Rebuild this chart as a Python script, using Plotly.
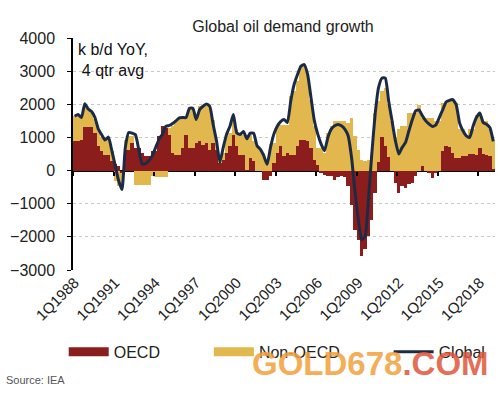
import plotly.graph_objects as go

# Quarterly, 1Q1988 .. 1Q2019 (125 quarters)
quarters = [f"{q}Q{y}" for y in range(1988, 2020) for q in range(1, 5)][:125]

oecd = [885, 885, 935, 1315, 1315, 1315, 1135, 735, 585, 480,
        480, 280, 210, 130, -70, 630, 630, 835, 690, 685,
        530, 430, 430, 585, 585, 1035, 1360, 1290, 1085, 530,
        480, 480, 685, 1085, 685, 685, 835, 885, 785, 835,
        630, 835, 630, 230, 330, 530, 735, 1085, 735, 480,
        480, 30, 380, 280, 0, 0, -270, -270, -170, 230,
        530, 735, 430, 530, 480, 480, 735, 935, 935, 885,
        685, 330, 180, -70, -120, -170, -170, -270, -200, -170,
        -200, -470, -1025, -1780, -2100, -2580, -2380, -1980, -1480, -670,
        250, 1000, 735, 400, 0, -370, -670, -470, -520, -420,
        -370, -170, 0, 130, 0, -70, -220, -70, 0, 600,
        750, 700, 530, 380, 380, 430, 430, 510, 500, 480,
        670, 510, 480, 450, 50]

non_oecd = [765, 765, 665, 635, 535, 435, 415, 465, 415, 455,
            520, 320, -300, -470, -470, 300, 400, 200, -450, -450,
            -450, -450, -450, -150, -200, -200, -200, -200, 200, 830,
            1060, 1110, 905, 505, 1175, 1175, 705, 1055, 1155, 1105,
            1310, 705, 205, 50, 200, 605, 400, 555, 505, 605,
            605, 1055, 705, 620, 735, 600, 530, 230, 800, 605,
            860, 655, 960, 860, 1760, 1920, 1965, 2215, 2215, 2015,
            1455, 1010, 505, 685, 530, 1140, 1340, 1490, 1490, 1490,
            1490, 1440, 1590, 1040, 630, 330, 280, 330, 480, 1740,
            1840, 1400, 1765, 1600, 1500, 1000, 1240, 1340, 1340, 1740,
            1740, 1740, 1990, 1460, 1590, 1590, 1590, 1490, 1490, 1440,
            1290, 1440, 1610, 1660, 860, 810, 610, 730, 740, 1210,
            1020, 980, 1010, 790, 840]

global_ = [1640, 1690, 1600, 2020, 1860, 1780, 1600, 1250, 1080, 920,
           1010, 600, 150, -300, -570, 700, 1150, 1130, 1080, 620,
           200, 210, 300, 450, 700, 950, 1100, 1330, 1360, 1420,
           1500, 1590, 1600, 1600, 1880, 1880, 1540, 1840, 1940, 2010,
           1940, 1400, 900, 250, 700, 1100, 1340, 1690, 1140, 1090,
           1180, 960, 1130, 1130, 750, 640, 450, 190, 700, 1100,
           1340, 1480, 1540, 1450, 2100, 2600, 2900, 3150, 3200, 2900,
           2200, 1500, 1100, 800, 600, 1000, 1250, 1350, 1390, 1350,
           1250, 1050, 400, -600, -1480, -2080, -2000, -900, 500, 1700,
           2500, 2790, 2790, 2100, 1500, 900, 500, 700, 850, 1200,
           1530, 1800, 1830, 1650, 1500, 1400, 1330, 1380, 1600, 1830,
           2070, 2120, 2140, 1990, 1440, 1200, 1050, 1000, 1340, 1600,
           1740, 1450, 1400, 1290, 880]

label_years = [1988, 1991, 1994, 1997, 2000, 2003, 2006, 2009, 2012, 2015, 2018]
tick_labels = [f"1Q{y}" for y in label_years]
tick_pos = [quarters.index(t) for t in tick_labels]
yticks = [4000, 3000, 2000, 1000, 0, -1000, -2000, -3000]

OECD_C = "#8C1D1D"
NON_C = "#E2B84E"
GLOBAL_C = "#1C2B45"
FONT = "Liberation Sans, Arial, sans-serif"

x = list(range(len(quarters)))

fig = go.Figure()
fig.add_trace(go.Bar(x=x, y=oecd, name="OECD", marker=dict(color=OECD_C, line=dict(width=0)),
                     showlegend=False, legendgroup="oecd"))
fig.add_trace(go.Bar(x=x, y=non_oecd, name="Non-OECD", marker=dict(color=NON_C, line=dict(width=0)),
                     showlegend=False, legendgroup="non"))
fig.add_trace(go.Scatter(x=x, y=global_, name="Global", mode="lines",
                         line=dict(color=GLOBAL_C, width=3, shape="spline", smoothing=0.5),
                         legend="legend3"))
# wide swatches for the bar series in the legend
fig.add_trace(go.Scatter(x=[None], y=[None], name="OECD", mode="lines", legendgroup="oecd",
                         line=dict(color=OECD_C, width=9), legend="legend", hoverinfo="skip"))
fig.add_trace(go.Scatter(x=[None], y=[None], name="Non-OECD", mode="lines", legendgroup="non",
                         line=dict(color=NON_C, width=9), legend="legend2", hoverinfo="skip"))
# ticks on the zero line (category boundaries)
fig.add_trace(go.Scatter(x=[p - 0.5 for p in tick_pos], y=[None] * len(tick_pos), xaxis="x2",
                         showlegend=False, hoverinfo="skip"))

leg_common = dict(orientation="h", yanchor="middle", xanchor="left", bgcolor="rgba(0,0,0,0)",
                  itemwidth=40, font=dict(family=FONT, size=16, color="#222"))
fig.update_layout(
    width=500, height=400,
    margin=dict(l=73, r=5, t=38, b=130),
    paper_bgcolor="white", plot_bgcolor="white",
    barmode="relative", bargap=0,
    font=dict(family=FONT, color="#222"),
    title=dict(text="Global oil demand growth", x=0.566, xanchor="center", y=0.935, yanchor="middle",
               font=dict(size=16, color="#222")),
    xaxis=dict(range=[-0.5, len(quarters) - 0.5], tickmode="array", tickvals=tick_pos,
               ticktext=tick_labels, tickangle=-45, ticks="", showgrid=False, showline=False,
               zeroline=False, tickfont=dict(size=15, color="#222")),
    xaxis2=dict(overlaying="x", anchor="free", position=3 / 7, matches="x",
                tickmode="array", tickvals=[p - 0.5 for p in tick_pos], showticklabels=False,
                ticks="outside", ticklen=4, tickwidth=1.5, tickcolor="black", showgrid=False,
                showline=False, zeroline=False),
    yaxis=dict(range=[-3000, 4000], tickmode="array", tickvals=yticks, showgrid=True,
               gridcolor="#C8C8C8", griddash="dot", gridwidth=1, showline=True, linecolor="black",
               linewidth=1.5, ticks="outside", ticklen=4, tickcolor="black", zeroline=True,
               zerolinecolor="black", zerolinewidth=1.5, ticklabelstandoff=9,
               tickfont=dict(size=16, color="#222")),
    legend=dict(x=-0.022, y=-0.353, **leg_common),
    legend2=dict(x=0.322, y=-0.353, **leg_common),
    legend3=dict(x=0.748, y=-0.353, **leg_common),
    annotations=[
        dict(text="k b/d YoY,<br>4 qtr avg", xref="paper", yref="paper", x=0.008, y=0.995,
             xanchor="left", yanchor="top", align="center", showarrow=False,
             font=dict(size=16, color="#111")),
        dict(text="Source: IEA", xref="paper", yref="paper", x=-0.163, y=-0.474,
             xanchor="left", yanchor="middle", showarrow=False,
             font=dict(size=11, color="#555")),
        dict(text="<b><span style='color:#F2A03A'>GOLD678</span><span style='color:#E0563C'>.COM</span></b>",
             xref="paper", yref="paper", x=0.704, y=-0.405, xanchor="center", yanchor="middle",
             showarrow=False, opacity=0.85, font=dict(size=33, family=FONT)),
    ],
)

fig.write_html("out.html", post_script="document.body.style.margin='0';",
               config={"displayModeBar": False})
